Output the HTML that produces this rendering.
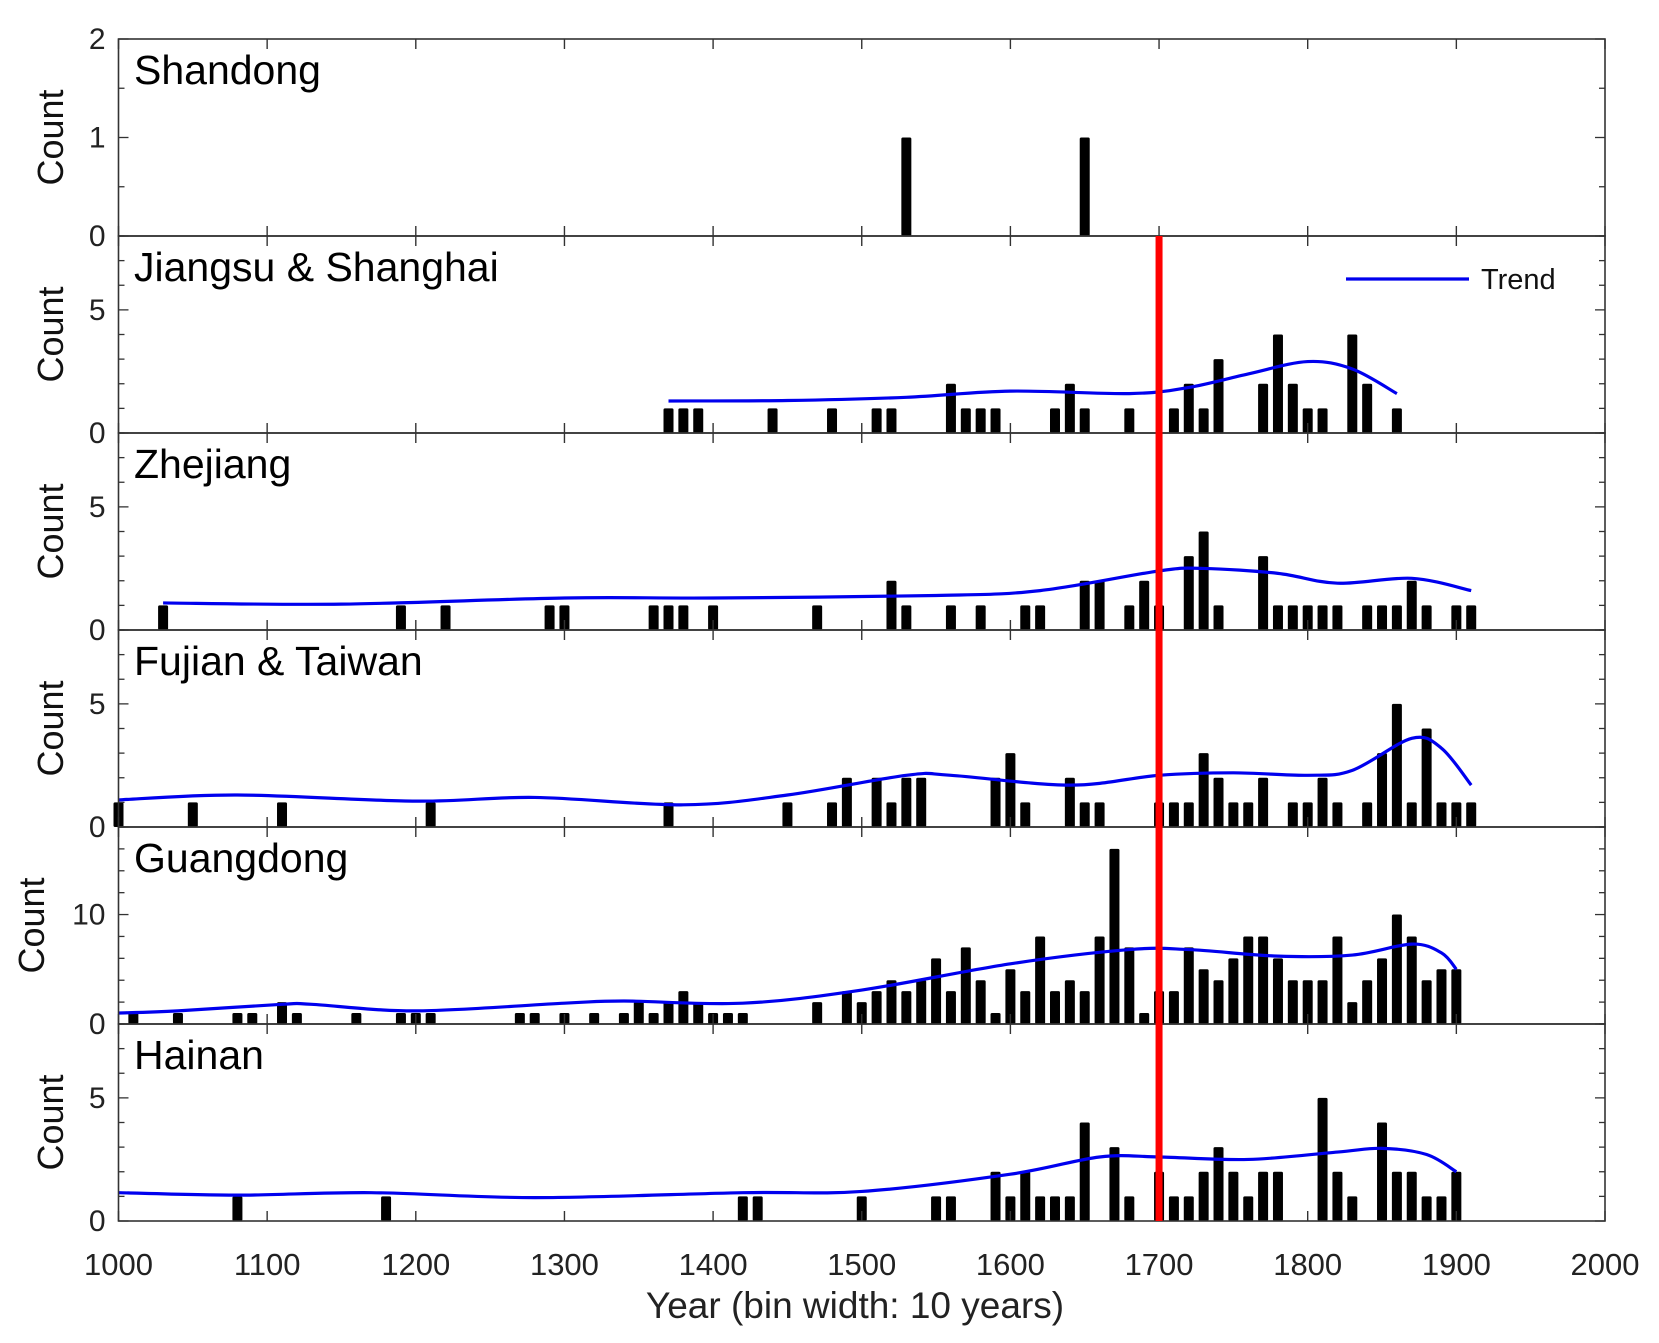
<!DOCTYPE html>
<html><head><meta charset="utf-8"><style>
body{margin:0;background:#fff}
svg{display:block;font-family:"Liberation Sans",Arial,sans-serif}
</style></head><body>
<svg id="chart" width="1659" height="1343" viewBox="0 0 1659 1343" xmlns="http://www.w3.org/2000/svg"></svg>
<script>
const xTicks=[1000,1100,1200,1300,1400,1500,1600,1700,1800,1900,2000];
const panelNames=["Shandong","Jiangsu & Shanghai","Zhejiang","Fujian & Taiwan","Guangdong","Hainan"];
const yMax=[2,8,8,8,18,8];
const yMajor=[[0,1,2],[0,5],[0,5],[0,5],[0,10],[0,5]];
const yMinorStep=[0.5,1,1,1,2,1];
const shandongYears=[1530,1650];
const shandongCounts=[1,1];
const jiangsuYears=[1370,1380,1390,1440,1480,1510,1520,1560,1570,1580,1590,1630,1640,1650,1680,1710,1720,1730,1740,1770,1780,1790,1800,1810,1830,1840,1860];
const jiangsuCounts=[1,1,1,1,1,1,1,2,1,1,1,1,2,1,1,1,2,1,3,2,4,2,1,1,4,2,1];
const jiangsuTrendX=[1370,1450,1530,1600,1680,1720,1760,1800,1830,1860];
const jiangsuTrendY=[1.3,1.32,1.45,1.7,1.6,1.85,2.4,2.9,2.6,1.6];
const zhejiangYears=[1030,1190,1220,1290,1300,1360,1370,1380,1400,1470,1520,1530,1560,1580,1610,1620,1650,1660,1680,1690,1700,1720,1730,1740,1770,1780,1790,1800,1810,1820,1840,1850,1860,1870,1880,1900,1910];
const zhejiangCounts=[1,1,1,1,1,1,1,1,1,1,2,1,1,1,1,1,2,2,1,2,1,3,4,1,3,1,1,1,1,1,1,1,1,2,1,1,1];
const zhejiangTrendX=[1030,1150,1300,1400,1550,1620,1700,1730,1780,1820,1870,1910];
const zhejiangTrendY=[1.1,1.05,1.3,1.3,1.4,1.6,2.4,2.5,2.3,1.9,2.1,1.6];
const fujianYears=[1000,1050,1110,1210,1370,1450,1480,1490,1510,1520,1530,1540,1590,1600,1610,1640,1650,1660,1700,1710,1720,1730,1740,1750,1760,1770,1790,1800,1810,1820,1840,1850,1860,1870,1880,1890,1900,1910];
const fujianCounts=[1,1,1,1,1,1,1,2,2,1,2,2,2,3,1,2,1,1,1,1,1,3,2,1,1,2,1,1,2,1,1,3,5,1,4,1,1,1];
const fujianTrendX=[1000,1080,1200,1280,1380,1450,1530,1560,1640,1700,1750,1800,1830,1870,1890,1910];
const fujianTrendY=[1.1,1.3,1.05,1.2,0.9,1.3,2.1,2.1,1.7,2.1,2.2,2.1,2.3,3.6,3.2,1.7];
const guangdongYears=[1010,1040,1080,1090,1110,1120,1160,1190,1200,1210,1270,1280,1300,1320,1340,1350,1360,1370,1380,1390,1400,1410,1420,1470,1490,1500,1510,1520,1530,1540,1550,1560,1570,1580,1590,1600,1610,1620,1630,1640,1650,1660,1670,1680,1690,1700,1710,1720,1730,1740,1750,1760,1770,1780,1790,1800,1810,1820,1830,1840,1850,1860,1870,1880,1890,1900];
const guangdongCounts=[1,1,1,1,2,1,1,1,1,1,1,1,1,1,1,2,1,2,3,2,1,1,1,2,3,2,3,4,3,4,6,3,7,4,1,5,3,8,3,4,3,8,16,7,1,3,3,7,5,4,6,8,8,6,4,4,4,8,2,4,6,10,8,4,5,5];
const guangdongTrendX=[1000,1040,1110,1130,1200,1300,1340,1420,1500,1600,1680,1720,1780,1830,1870,1890,1900];
const guangdongTrendY=[1,1.2,1.8,1.8,1.2,1.9,2.1,1.9,3.1,5.5,6.8,6.8,6.2,6.3,7.3,6.5,5.0];
const hainanYears=[1080,1180,1420,1430,1500,1550,1560,1590,1600,1610,1620,1630,1640,1650,1670,1680,1700,1710,1720,1730,1740,1750,1760,1770,1780,1810,1820,1830,1850,1860,1870,1880,1890,1900];
const hainanCounts=[1,1,1,1,1,1,1,2,1,2,1,1,1,4,3,1,2,1,1,2,3,2,1,2,2,5,2,1,4,2,2,1,1,2];
const hainanTrendX=[1000,1080,1170,1280,1420,1500,1600,1660,1700,1760,1820,1850,1880,1900];
const hainanTrendY=[1.15,1.05,1.15,0.95,1.15,1.2,1.9,2.6,2.6,2.5,2.8,2.95,2.7,2.0];
const markerYear=[1700];

const panels=[
 {years:shandongYears,counts:shandongCounts,tx:null,ty:null},
 {years:jiangsuYears,counts:jiangsuCounts,tx:jiangsuTrendX,ty:jiangsuTrendY},
 {years:zhejiangYears,counts:zhejiangCounts,tx:zhejiangTrendX,ty:zhejiangTrendY},
 {years:fujianYears,counts:fujianCounts,tx:fujianTrendX,ty:fujianTrendY},
 {years:guangdongYears,counts:guangdongCounts,tx:guangdongTrendX,ty:guangdongTrendY},
 {years:hainanYears,counts:hainanCounts,tx:hainanTrendX,ty:hainanTrendY}
];
const NS="http://www.w3.org/2000/svg";
const svg=document.getElementById('chart');
const L=118.5,R=1605,T0=39,PH=197;
const xs=y=>L+(y-1000)/1000*(R-L);
function mk(tag,attrs,parent){const e=document.createElementNS(NS,tag);for(const k in attrs)e.setAttribute(k,attrs[k]);(parent||svg).appendChild(e);return e;}
function catmull(pts){let d="M"+pts[0][0]+","+pts[0][1];for(let i=0;i<pts.length-1;i++){const p0=pts[i-1]||pts[i],p1=pts[i],p2=pts[i+1],p3=pts[i+2]||p2;
 d+=" C"+(p1[0]+(p2[0]-p0[0])/6)+","+(p1[1]+(p2[1]-p0[1])/6)+" "+(p2[0]-(p3[0]-p1[0])/6)+","+(p2[1]-(p3[1]-p1[1])/6)+" "+p2[0]+","+p2[1];}return d;}
panels.forEach((p,i)=>{
 const top=T0+i*PH,bot=top+PH;
 const ys=v=>bot-v/yMax[i]*PH;
 const g=mk('g',{});
 
 
 p.years.forEach((yr,j)=>{
  const b=mk('rect',{x:xs(yr)-5,y:ys(p.counts[j]),width:10,height:bot-ys(p.counts[j]),fill:'#000',rx:1.5},g);
  
  
 });
 if(p.tx){
  const pts=p.tx.map((x,j)=>[xs(x),ys(p.ty[j])]);
  const tl=mk('path',{d:catmull(pts),fill:'none',stroke:'#0000ee','stroke-width':3.2},g);
  
  
 }
 const frame=mk('rect',{x:L,y:top,width:R-L,height:PH,fill:'none',stroke:'#333','stroke-width':1.6},g);
 
 
 xTicks.forEach(t=>{mk('line',{x1:xs(t),x2:xs(t),y1:top,y2:top+10,stroke:'#333','stroke-width':1.4},g);mk('line',{x1:xs(t),x2:xs(t),y1:bot,y2:bot-10,stroke:'#333','stroke-width':1.4},g);});
 for(let v=0;v<=yMax[i]+1e-9;v+=yMinorStep[i]){const major=yMajor[i].includes(v);const len=major?10:6;
  mk('line',{x1:L,x2:L+len,y1:ys(v),y2:ys(v),stroke:'#333','stroke-width':1.3},g);
  mk('line',{x1:R,x2:R-len,y1:ys(v),y2:ys(v),stroke:'#333','stroke-width':1.3},g);}
 yMajor[i].forEach(v=>{const t=mk('text',{x:L-13,y:ys(v)+10,'text-anchor':'end','font-size':30,fill:'#222'},g);t.textContent=v;
  
  });
 const cy=(top+bot)/2, cx=i==4?44:63;
 const yl=mk('text',{x:cx,y:cy,transform:'rotate(-90 '+cx+' '+cy+')','text-anchor':'middle','font-size':36,fill:'#111'},g);
 yl.textContent='Count';
 
 
 const ti=mk('text',{x:134,y:top+45,'font-size':41,fill:'#000'},g);
 ti.textContent=panelNames[i];
 
 
});
const rl=mk('line',{x1:xs(markerYear[0]),x2:xs(markerYear[0]),y1:T0+PH,y2:T0+6*PH,stroke:'#ff0000','stroke-width':7});


const lg=mk('g',{});


mk('line',{x1:1346,x2:1469,y1:279,y2:279,stroke:'#0000ee','stroke-width':3.2},lg);
const lt=mk('text',{x:1481,y:289,'font-size':29,fill:'#111'},lg);
lt.textContent='Trend';


const bottom=T0+6*PH;
xTicks.forEach(t=>{const e=mk('text',{x:xs(t),y:bottom+54,'text-anchor':'middle','font-size':31,fill:'#222'});e.textContent=t;
 
 });
const xt=mk('text',{x:855,y:1318,'text-anchor':'middle','font-size':37,fill:'#222'});
xt.textContent='Year (bin width: 10 years)';


</script>
</body></html>
